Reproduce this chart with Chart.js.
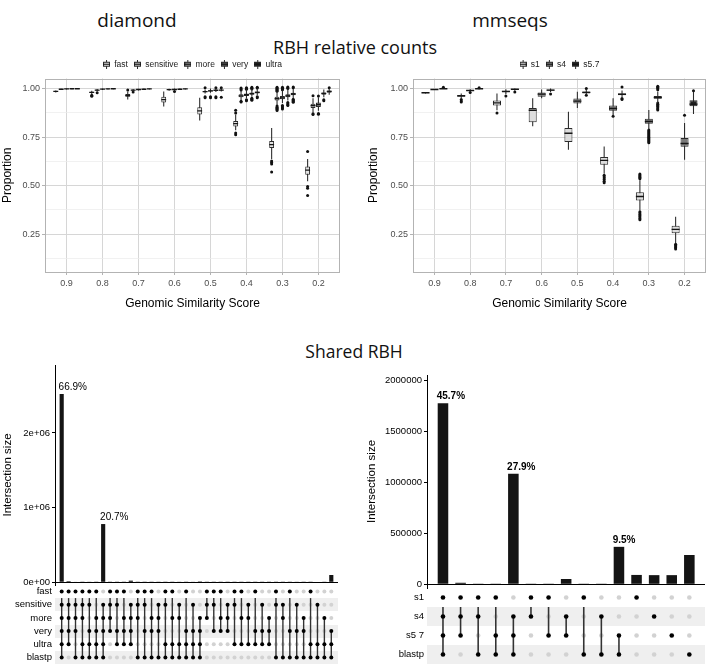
<!DOCTYPE html>
<html><head><meta charset="utf-8">
<script src="https://cdn.jsdelivr.net/npm/chart.js@4.4.1/dist/chart.umd.min.js"></script>
<style>
html,body{margin:0;padding:0;background:#fff}
#page{position:relative;width:709px;height:664px;overflow:hidden;background:#fff}
.hd{position:absolute;font-family:"Open Sans",sans-serif;color:#111;white-space:nowrap;transform:translate(-50%,-50%);line-height:1}
canvas{position:absolute;display:block}
</style></head><body>
<div id="page">
<div class="hd" style="left:137px;top:20px;font-size:19px">diamond</div>
<div class="hd" style="left:510px;top:20px;font-size:19px">mmseqs</div>
<div class="hd" style="left:355px;top:47px;font-size:18px">RBH relative counts</div>
<div class="hd" style="left:354px;top:352px;font-size:17.5px">Shared RBH</div>
<canvas id="c1" width="354" height="257" style="left:0;top:54px"></canvas>
<canvas id="c2" width="349" height="257" style="left:360px;top:54px"></canvas>
<canvas id="c3" width="345" height="304" style="left:0;top:360px"></canvas>
<canvas id="c4" width="349" height="304" style="left:360px;top:360px"></canvas>
</div>
<script>
Chart.defaults.font.family = '"Liberation Sans", Arial, sans-serif';
Chart.defaults.animation = false;

// ---------- shared axis data ----------
const simCats = ['0.9','0.8','0.7','0.6','0.5','0.4','0.3','0.2'];
const propTicks = [0.125,0.25,0.375,0.5,0.625,0.75,0.875,1.0];
const propMajor = [0.25,0.5,0.75,1.0];

// ---------- diamond boxplots: [whiskerLow, q1, median, q3, whiskerHigh] per category ----------
const diamondModes = ['fast','sensitive','more','very','ultra'];
const diamondFast = [[.979,.983,.985,.987,.990],[.972,.977,.980,.983,.988],[.943,.957,.964,.972,.985],[.908,.928,.943,.958,.985],[.836,.866,.885,.903,.952],[.785,.805,.819,.833,.866],[.637,.694,.711,.730,.797],[.522,.556,.580,.598,.637]];
const diamondSensitive = [[.993,.995,.996,.997,.999],[.985,.990,.992,.994,.998],[.985,.990,.992,.994,.998],[.988,.992,.994,.996,.999],[.975,.981,.984,.987,.995],[.940,.955,.962,.970,.988],[.915,.938,.948,.958,.985],[.875,.900,.912,.922,.950]];
const diamondMore = [[.995,.997,.998,.999,1.0],[.993,.996,.997,.998,1.0],[.990,.993,.995,.996,.999],[.991,.994,.995,.997,1.0],[.978,.985,.988,.991,1.0],[.950,.962,.968,.975,.995],[.925,.945,.952,.962,.990],[.885,.905,.918,.928,.955]];
const diamondVery = [[.996,.998,.999,.999,1.0],[.995,.997,.998,.999,1.0],[.993,.995,.996,.997,1.0],[.993,.995,.996,.997,1.0],[.982,.988,.991,.993,1.0],[.958,.968,.974,.980,.998],[.938,.955,.962,.970,.995],[.955,.968,.975,.980,.995]];
const diamondUltra = [[.997,.998,.999,1.0,1.0],[.996,.998,.999,.999,1.0],[.995,.997,.998,.999,1.0],[.995,.997,.998,.998,1.0],[.985,.990,.992,.994,1.0],[.965,.975,.980,.985,1.0],[.950,.965,.972,.978,.998],[.968,.978,.985,.990,1.0]];
const diamondFastOut = [[],[.960,.966],[.992],[],[],[.888,.874,.771,.762],[.627,.619,.612,.570],[.676,.495,.487,.449]];
const diamondSensitiveOut = [[],[.978],[.982],[],[1.004,.958,.952],[1.003,.998,.993,.935,.930],[1.006,1.001,.996,.991,.986,.910,.904,.898,.893,.887],[.963,.870,.866]];
const diamondMoreOut = [[],[],[],[.985],[.957,.952],[1.004,1.0,.996,.942,.937],[1.006,1.002,.998,.994,.912,.906,.900,.895],[.961,.872,.867]];
const diamondVeryOut = [[],[],[],[],[1.004,.957,.952],[1.006,1.002,.998,.950,.945,.940],[1.008,1.004,1.0,.928,.922,.917,.912],[.942,.937]];
const diamondUltraOut = [[],[],[],[],[1.004,.955],[1.007,1.003,.957,.952],[1.008,1.004,.945,.940,.934,.929],[1.004]];
const diamondFills = ['#e3e3e3','#b8b8b8','#858585','#4f4f4f','#1f1f1f'];

// ---------- mmseqs boxplots ----------
const mmseqsModes = ['s1','s4','s5.7'];
const mmseqsS1 = [[.974,.976,.978,.980,.982],[.950,.957,.962,.967,.975],[.888,.912,.926,.938,.975],[.806,.826,.888,.900,.950],[.685,.725,.770,.797,.880],[.561,.607,.630,.647,.702],[.372,.423,.444,.466,.528],[.203,.255,.275,.294,.340]];
const mmseqsS4 = [[.992,.994,.995,.996,.998],[.984,.988,.990,.992,.996],[.972,.980,.985,.989,.996],[.950,.958,.971,.980,.995],[.900,.923,.935,.948,.983],[.860,.886,.897,.912,.950],[.790,.818,.830,.845,.890],[.633,.700,.717,.745,.823]];
const mmseqsS57 = [[.997,.999,.999,1.0,1.0],[.996,.998,.999,1.0,1.0],[.988,.993,.996,.998,1.0],[.982,.988,.992,.995,1.0],[.968,.975,.980,.985,.995],[.955,.965,.970,.976,.990],[.925,.947,.954,.962,.985],[.869,.909,.920,.940,.983]];
const mmseqsS1Out = [[],[.943,.936,.930],[.874],[],[],[.553,.546,.539,.531,.523,.515],[.560,.555,.550,.545,.540,.535,.365,.359,.352,.345,.338,.331,.324],[.198,.192,.186,.180,.174]];
const mmseqsS4Out = [[],[.980],[.962],[],[],[.857],[.786,.781,.776,.771,.766,.761,.756,.751,.746,.741,.736,.731,.726,.721],[.862]];
const mmseqsS57Out = [[1.006],[1.004],[.982],[.972],[1.0,.966],[1.008,.948,.944],[1.012,1.006,1.0,.994,.925,.919,.913,.907,.901,.895,.889],[.988]];
const mmseqsFills = ['#dddddd','#7a7a7a','#222222'];

// ---------- shared RBH (upset) ----------
const diamondSets = ['fast','sensitive','more','very','ultra','blastp'];
const diamondCombos = ['111111','111110','111101','111011','110111','101111','011111',
  '111100','110110','101110','011110',
  '111001','110101','101101','011101','110011','101011','011011','100111','010111','001111',
  '111000','110100','101100','011100','110010','101010','011010','100110','010110','001110',
  '110001','011001','100101','010101','001101','100011','010011','001011','000111'];
const diamondSizes = [2520000,15000,6000,4000,5000,3000,780000,2000,1500,1500,22000,1000,1000,1500,9000,1000,1000,5000,2000,8000,12000,800,600,700,2500,600,500,3000,600,3000,4000,1500,1200,1000,5000,1000,2000,7000,9000,98000];
const diamondPct = ['66.9%','','','','','','20.7%'];
const diamondSizeTicks = [0,1000000,2000000];
const diamondSizeTickLabels = ['0e+00','1e+06','2e+06'];

const mmseqsSets = ['s1','s4','s5 7','blastp'];
const mmseqsCombos = ['1111','1110','1101','1011','0111','1100','1010','0110','1001','0101','0011','1000','0100','0010','0001'];
const mmseqsSizes = [1778000,15000,2000,2000,1085000,2000,2000,52000,2000,2000,368000,92000,90000,90000,288000];
const mmseqsPct = ['45.7%','','','','27.9%','','','','','','9.5%'];
const mmseqsSizeTicks = [0,500000,1000000,1500000,2000000];
const mmseqsSizeTickLabels = ['0','500000','1000000','1500000','2000000'];

// ---------- helpers ----------
const PROP_MIN = 0.0554, PROP_MAX = 1.0516, MED_HALF = 0.0035;

const panelBorder = {
  id: 'panelBorder',
  afterDatasetsDraw(chart) {
    const a = chart.chartArea, c = chart.ctx;
    c.save(); c.strokeStyle = '#b3b3b3'; c.lineWidth = 1;
    c.strokeRect(Math.round(a.left) + 0.5, Math.round(a.top) + 0.5, Math.round(a.right - a.left) - 1, Math.round(a.bottom - a.top) - 1);
    c.restore();
  }
};

const pctPlugin = {
  id: 'pctLabels',
  afterDatasetsDraw(chart, args, o) {
    if (!o || !o.labels) return;
    const meta = chart.getDatasetMeta(o.datasetIndex);
    const c = chart.ctx;
    c.save(); c.font = o.font; c.fillStyle = '#000'; c.textAlign = 'left'; c.textBaseline = 'bottom';
    o.labels.forEach((t, i) => {
      if (!t) return;
      const el = meta.data[i];
      c.fillText(t, el.x - el.width / 2 + o.dx, el.y - 2);
    });
    c.restore();
  }
};

function glyph(fill) {
  const cv = document.createElement('canvas'); cv.width = 7; cv.height = 9;
  const g = cv.getContext('2d');
  g.fillStyle = '#2b2b2b'; g.fillRect(3, 0, 1, 9);
  g.fillStyle = fill; g.fillRect(1, 2, 5, 5);
  g.strokeStyle = '#2b2b2b'; g.lineWidth = 1; g.strokeRect(0.5, 2.5, 6, 4);
  g.fillStyle = '#111'; g.fillRect(0, 4, 7, 1);
  return cv;
}

function boxChart(id, names, fills, stats, outs, cfg) {
  const n = names.length;
  const common = {type: 'bar', categoryPercentage: 0.75, xAxisID: 'x', yAxisID: 'y'};
  const datasets = [];
  stats.forEach((st, s) => datasets.push(Object.assign({}, common, {stack: 'g' + s, barPercentage: 0.9,
    data: st.map((r, i) => ({x: i, y: [r[2] - MED_HALF, r[2] + MED_HALF]})), backgroundColor: '#151515', borderWidth: 0})));
  stats.forEach((st, s) => datasets.push(Object.assign({}, common, {stack: 'g' + s, barPercentage: 0.9,
    data: st.map((r, i) => ({x: i, y: [r[1], r[3]]})), backgroundColor: fills[s], borderColor: '#2b2b2b', borderWidth: 1, borderSkipped: false})));
  stats.forEach((st, s) => datasets.push(Object.assign({}, common, {stack: 'g' + s, barPercentage: cfg.whisker,
    data: st.map((r, i) => ({x: i, y: [r[0], r[4]]})), backgroundColor: '#2b2b2b', borderWidth: 0})));
  const pts = [];
  outs.forEach((o, s) => {
    const off = (s - (n - 1) / 2) * 0.75 / n;
    o.forEach((arr, i) => arr.forEach(v => pts.push({x: i + off, y: v})));
  });
  datasets.push({type: 'scatter', xAxisID: 'x', yAxisID: 'y', data: pts, pointRadius: 1.5, pointHoverRadius: 1.5, pointBackgroundColor: '#111', pointBorderWidth: 0, backgroundColor: '#111'});
  const isMajor = (c) => c.tick && propMajor.includes(c.tick.value);
  return new Chart(document.getElementById(id), {
    type: 'bar', data: {datasets}, plugins: [panelBorder],
    options: {
      responsive: false, animation: false, events: [],
      layout: {autoPadding: false, padding: {left: 0, right: cfg.padRight, top: 0, bottom: 0}},
      plugins: {
        tooltip: {enabled: false},
        legend: {display: true, position: 'top', fullSize: false,
          labels: {usePointStyle: true, boxWidth: 7, boxHeight: 7, padding: 6, color: '#1a1a1a', font: {size: 8.5},
            generateLabels: () => names.map((nm, s) => ({text: nm, pointStyle: glyph(fills[s]), fillStyle: fills[s], strokeStyle: '#2b2b2b', lineWidth: 0, hidden: false, datasetIndex: s, fontColor: '#1a1a1a'}))}}
      },
      scales: {
        x: {type: 'linear', min: -0.6, max: simCats.length - 0.4, offset: false,
          afterBuildTicks: (sc) => { sc.ticks = simCats.map((_, i) => ({value: i})); },
          ticks: {autoSkip: false, maxRotation: 0, padding: 3, color: '#4d4d4d', font: {size: 9}, callback: (v) => simCats[v]},
          grid: {offset: false, color: '#d6d6d6', lineWidth: 1, tickLength: 3, tickColor: '#b3b3b3'},
          border: {display: false},
          title: {display: true, text: 'Genomic Similarity Score', color: '#000', font: {size: 12}, padding: {top: 0, bottom: 0}},
          afterFit: (sc) => { sc.height = 39; }},
        y: {type: 'linear', min: PROP_MIN, max: PROP_MAX, stacked: false,
          afterBuildTicks: (sc) => { sc.ticks = propTicks.map(v => ({value: v})); },
          ticks: {autoSkip: false, padding: 2, color: '#4d4d4d', font: {size: 9}, callback: (v) => propMajor.includes(v) ? v.toFixed(2) : ''},
          grid: {color: (c) => isMajor(c) ? '#d6d6d6' : '#ebebeb', lineWidth: (c) => isMajor(c) ? 1 : 0.7, tickLength: 3,
            tickColor: (c) => isMajor(c) ? '#b3b3b3' : 'rgba(0,0,0,0)'},
          border: {display: false},
          title: {display: true, text: 'Proportion', color: '#000', font: {size: 12}, padding: {top: cfg.titlePad, bottom: 0}},
          afterFit: (sc) => { sc.width = cfg.yWidth; }}
      }
    }
  });
}

function noPad(sc, w) { sc.width = w; sc.paddingTop = 0; sc.paddingBottom = 0; }

function upsetChart(id, sets, combos, sizes, pct, ticks, tickLabels, cfg) {
  const on = [], off = [], links = [];
  combos.forEach((code, i) => {
    const rows = [];
    code.split('').forEach((b, r) => { if (b === '1') { rows.push(r); on.push({x: i, y: r}); } else { off.push({x: i, y: r}); } });
    links.push({x: i, y: [Math.min(...rows), Math.max(...rows)]});
  });
  const datasets = [
    {type: 'scatter', xAxisID: 'x', yAxisID: 'ym', data: on, pointRadius: cfg.dotR, pointHoverRadius: cfg.dotR, pointBackgroundColor: '#000', pointBorderWidth: 0, backgroundColor: '#000'},
    {type: 'bar', xAxisID: 'x', yAxisID: 'ym', stack: 'u', data: links, backgroundColor: '#333', borderWidth: 0, barPercentage: cfg.linkPct, categoryPercentage: 1},
    {type: 'scatter', xAxisID: 'x', yAxisID: 'ym', data: off, pointRadius: cfg.dotR, pointHoverRadius: cfg.dotR, pointBackgroundColor: '#d2d2d2', pointBorderWidth: 0, backgroundColor: '#d2d2d2'},
    {type: 'bar', xAxisID: 'x', yAxisID: 'y', stack: 'u', data: sizes.map((v, i) => ({x: i, y: v})), backgroundColor: '#141414', borderWidth: 0, barPercentage: 0.6, categoryPercentage: 1}
  ];
  return new Chart(document.getElementById(id), {
    type: 'bar', data: {datasets}, plugins: [pctPlugin],
    options: {
      responsive: false, animation: false, events: [],
      layout: {autoPadding: false, padding: {left: 0, right: cfg.padRight, top: cfg.padTop, bottom: 0}},
      plugins: {
        tooltip: {enabled: false}, legend: {display: false},
        pctLabels: {datasetIndex: 3, labels: pct, font: cfg.pctFont, dx: cfg.pctDx}
      },
      scales: {
        x: {type: 'linear', display: false, min: cfg.xMin, max: cfg.xMax, offset: false, grid: {offset: false},
          afterBuildTicks: (sc) => { sc.ticks = combos.map((_, i) => ({value: i})); }},
        y: {type: 'linear', position: 'left', stack: 'upset', stackWeight: cfg.barH, weight: 2, min: cfg.yMin, max: cfg.yMax, stacked: false,
          afterBuildTicks: (sc) => { sc.ticks = ticks.map(v => ({value: v})); },
          ticks: {autoSkip: false, color: '#000', font: {size: 9.5}, padding: 2, callback: (v) => tickLabels[ticks.indexOf(v)]},
          grid: {color: (c) => (c.tick && c.tick.value === 0) ? '#000' : 'rgba(0,0,0,0)', lineWidth: 1, tickLength: 3, tickColor: '#000'},
          border: {display: true, color: '#000', width: 1},
          title: {display: true, text: 'Intersection size', color: '#000', font: {size: 11.5}, padding: {top: cfg.titlePad, bottom: 0}},
          afterFit: (sc) => noPad(sc, cfg.yWidth)},
        ym: {type: 'linear', position: 'left', stack: 'upset', stackWeight: cfg.matH, weight: 1, min: -0.5, max: sets.length - 0.5, reverse: true, stacked: false,
          afterBuildTicks: (sc) => { sc.ticks = sets.map((_, r) => ({value: r})); },
          ticks: {autoSkip: false, color: '#000', font: {size: 9.5}, padding: 3, callback: (v) => sets[v]},
          grid: {drawTicks: false, color: (c) => (c.tick && c.tick.value % 2 === 1) ? '#efefef' : 'rgba(0,0,0,0)',
            lineWidth: cfg.bandW},
          border: {display: false},
          afterFit: (sc) => noPad(sc, cfg.yWidth)}
      }
    }
  });
}

// ---------- build ----------
boxChart('c1', diamondModes, diamondFills,
  [diamondFast, diamondSensitive, diamondMore, diamondVery, diamondUltra],
  [diamondFastOut, diamondSensitiveOut, diamondMoreOut, diamondVeryOut, diamondUltraOut],
  {padRight: 14, yWidth: 45, titlePad: 0, whisker: 0.2});

boxChart('c2', mmseqsModes, mmseqsFills,
  [mmseqsS1, mmseqsS4, mmseqsS57],
  [mmseqsS1Out, mmseqsS4Out, mmseqsS57Out],
  {padRight: 3, yWidth: 53, titlePad: 6, whisker: 0.12});

upsetChart('c3', diamondSets, diamondCombos, diamondSizes, diamondPct, diamondSizeTicks, diamondSizeTickLabels,
  {padRight: 7, padTop: 5, yWidth: 55, titlePad: 1, barH: 220, matH: 79, yMin: -36160, yMax: 2910000, bandW: 13,
   xMin: -0.967, xMax: 39.97, dotR: 2, linkPct: 0.2, pctFont: '10px "Liberation Sans", Arial, sans-serif', pctDx: -1});

upsetChart('c4', mmseqsSets, mmseqsCombos, mmseqsSizes, mmseqsPct, mmseqsSizeTicks, mmseqsSizeTickLabels,
  {padRight: 4, padTop: 15, yWidth: 67, titlePad: 5, barH: 213, matH: 76, yMin: -36340, yMax: 2056000, bandW: 19,
   xMin: -0.908, xMax: 14.89, dotR: 2.3, linkPct: 0.09, pctFont: 'bold 10px "Liberation Sans", Arial, sans-serif', pctDx: -1});
</script>
</body></html>
